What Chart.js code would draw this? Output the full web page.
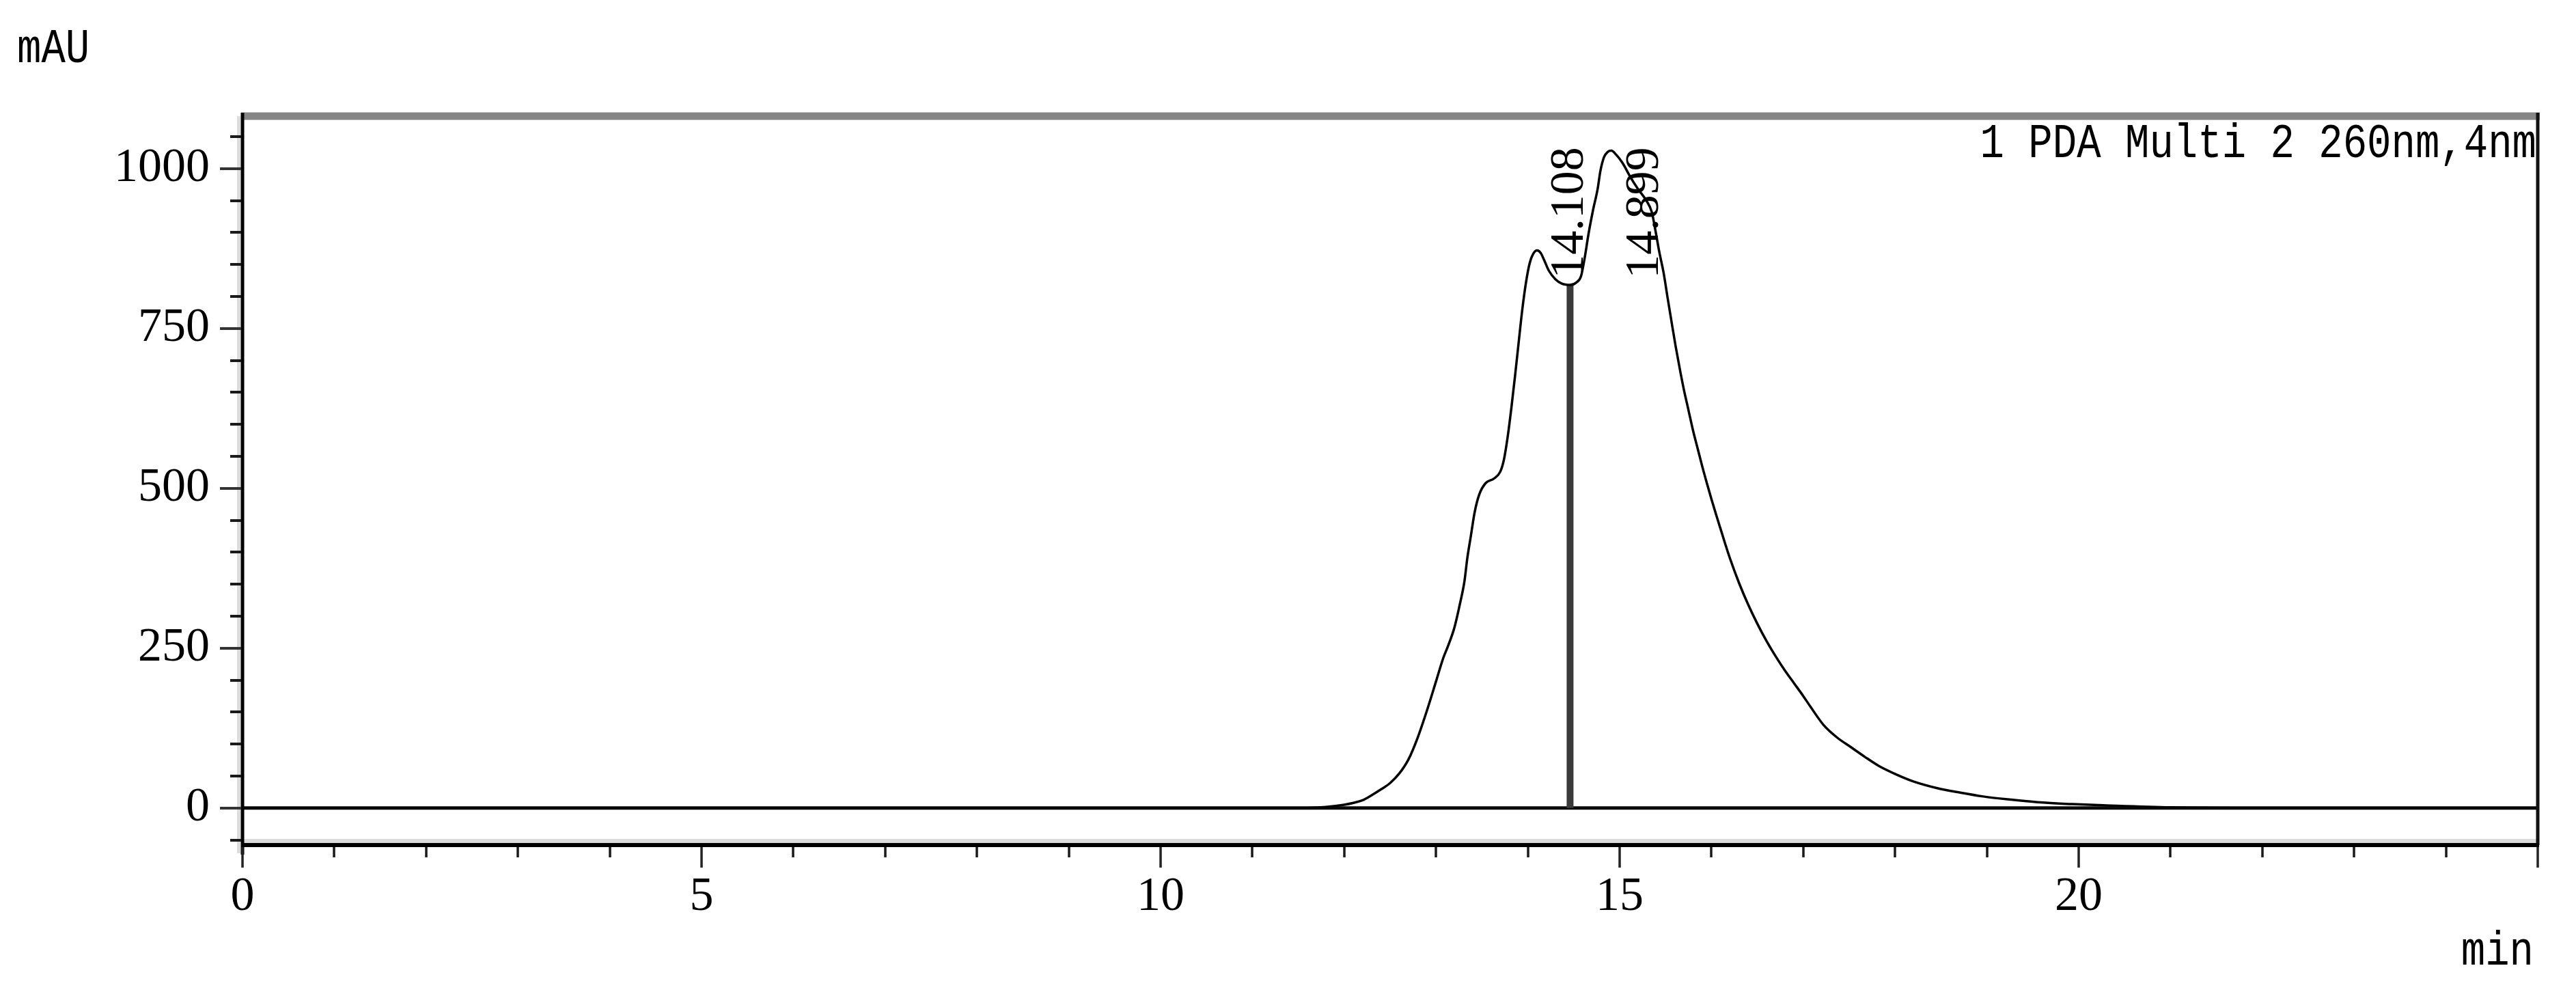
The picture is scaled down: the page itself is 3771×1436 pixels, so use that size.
<!DOCTYPE html>
<html>
<head>
<meta charset="utf-8">
<script src="https://cdn.jsdelivr.net/npm/chart.js@4.4.1/dist/chart.umd.min.js"></script>
<style>
  html, body { margin: 0; padding: 0; background: #ffffff; }
  #wrap { width: 3771px; height: 1436px; position: relative; }
</style>
</head>
<body>
<div id="wrap"><canvas id="chart"></canvas></div>
<script>
// ---- data ----
const timeMin = [0, 11.6, 11.8, 12.0, 12.1, 12.2, 12.3, 12.4, 12.5, 12.6, 12.7, 12.8, 12.9, 13.0, 13.08, 13.13, 13.2,
  13.26, 13.31, 13.34, 13.38, 13.42, 13.47, 13.54, 13.63, 13.70, 13.74, 13.78, 13.82, 13.86, 13.90,
  13.94, 13.98, 14.02, 14.06, 14.10, 14.14, 14.18, 14.23, 14.30, 14.37, 14.46, 14.53, 14.58, 14.62, 14.66, 14.71,
  14.76, 14.79, 14.83, 14.87, 14.91, 14.96, 15.03, 15.12, 15.20, 15.29, 15.35, 15.39, 15.43, 15.48, 15.52,
  15.56, 15.61, 15.66, 15.70, 15.75, 15.80, 15.85, 15.90, 15.95, 16.0, 16.05, 16.1, 16.15, 16.2, 16.3,
  16.4, 16.5, 16.6, 16.7, 16.8, 16.9, 17.0, 17.08, 17.22, 17.37, 17.52, 17.67, 17.82, 18.02, 18.21, 18.46, 18.71, 18.96,
  19.26, 19.55, 19.93, 20.3, 21.0, 22.0, 25.0];
const signalMAU = [0, 0, 1.5, 5, 8, 12, 20, 29, 39, 54, 76, 110, 152, 198, 235, 253, 282,
  319, 355, 390, 426, 462, 490, 508, 515, 526, 545, 580, 625, 675, 728,
  780, 822, 852, 867, 872, 868, 856, 840, 827, 820, 818, 822, 832, 861, 897, 935,
  968, 996, 1018, 1026, 1028, 1022, 1009, 986, 968, 950, 932, 903, 871, 836, 800,
  765, 722, 683, 654, 622, 590, 562, 534, 508, 483, 459, 436, 413, 391, 352,
  318, 288, 261, 237, 215, 195, 175, 158, 130, 110, 95, 80, 66, 52, 41, 31, 24, 18,
  13, 9, 6, 4, 1, 0, 0];
const baselineTime = [0, 25];
const baselineMAU = [0, 0];
const dropTime = [14.46, 14.46];
const dropMAU = [0, 818];
const peakLabels = ['14.108', '14.899'];
const peakLabelTime = [14.46, 15.28];
const peakLabelMAU = [828, 828];
const xTickLabels = [0, 5, 10, 15, 20];
const yTickLabels = [0, 250, 500, 750, 1000];
const channelText = '1 PDA Multi 2 260nm,4nm';
const yUnitText = 'mAU';
const xUnitText = 'min';

const toPoints = (xs, ys) => xs.map((v, i) => ({ x: v, y: ys[i] }));

const decorPlugin = {
  id: 'chromDecor',
  afterDraw(chart) {
    const { ctx, chartArea: a, scales: { x, y } } = chart;
    ctx.save();
    // light shadows of the axes
    ctx.fillStyle = '#dcdcdc';
    ctx.fillRect(a.left - 8, a.top, 5, a.bottom - a.top + 12);
    ctx.fillRect(a.left, a.bottom - 9, a.right - a.left, 6);

    const line = (x1, y1, x2, y2) => { ctx.beginPath(); ctx.moveTo(x1, y1); ctx.lineTo(x2, y2); ctx.stroke(); };
    // top border (grey), right border
    ctx.lineCap = 'butt';
    ctx.strokeStyle = '#858585'; ctx.lineWidth = 11;
    line(a.left - 2, a.top, a.right + 3, a.top);
    ctx.strokeStyle = '#111111'; ctx.lineWidth = 5;
    line(a.right, a.top - 5, a.right, a.bottom);
    // left & bottom axes
    ctx.strokeStyle = '#000000'; ctx.lineWidth = 5;
    line(a.left, a.top - 5, a.left, a.bottom + 14);
    ctx.lineWidth = 6;
    line(a.left, a.bottom, a.right + 2, a.bottom);

    // y ticks (major every 250, minor every 50)
    ctx.lineWidth = 4;
    for (let v = -50; v <= y.max; v += 50) {
      const py = Math.round(y.getPixelForValue(v));
      const major = v % 250 === 0;
      ctx.strokeStyle = major ? '#333333' : '#1a1a1a';
      line(a.left - (major ? 33 : 18), py, a.left - 2, py);
    }
    // x ticks (major every 5, minor every 1)
    ctx.lineWidth = 3.5;
    for (let v = 0; v <= x.max; v += 1) {
      const px = Math.round(x.getPixelForValue(v));
      const major = v % 5 === 0;
      ctx.strokeStyle = major ? '#222222' : '#1a1a1a';
      line(px, a.bottom + 3, px, a.bottom + (major ? 33 : 18));
    }

    // peak retention-time labels (rotated)
    ctx.fillStyle = '#000000';
    ctx.font = '70px "Liberation Serif"';
    ctx.textAlign = 'left';
    ctx.textBaseline = 'middle';
    peakLabels.forEach((t, i) => {
      ctx.save();
      ctx.translate(x.getPixelForValue(peakLabelTime[i]), y.getPixelForValue(peakLabelMAU[i]));
      ctx.rotate(-Math.PI / 2);
      ctx.fillText(t, 0, 0);
      ctx.restore();
    });

    // unit labels & channel text (narrow monospace)
    ctx.font = '70px "Liberation Mono"';
    ctx.textBaseline = 'alphabetic';
    const narrowText = (t, px, py, align) => {
      ctx.save();
      ctx.translate(px, py);
      ctx.scale(0.843, 1);
      ctx.textAlign = align;
      ctx.fillText(t, 0, 0);
      ctx.restore();
    };
    narrowText(yUnitText, 25, 91, 'left');
    narrowText(xUnitText, 3709, 1412, 'right');
    narrowText(channelText, 3713, 230, 'right');
    ctx.restore();
  }
};

const tickFont = { family: 'Liberation Serif', size: 70 };

new Chart(document.getElementById('chart'), {
  type: 'line',
  data: {
    datasets: [
      {
        label: 'PDA 260nm',
        data: toPoints(timeMin, signalMAU),
        borderColor: '#000000',
        borderWidth: 3.5,
        pointRadius: 0,
        cubicInterpolationMode: 'monotone',
        fill: false
      },
      {
        label: 'drop line',
        data: toPoints(dropTime, dropMAU),
        borderColor: '#3a3a3a',
        borderWidth: 10,
        pointRadius: 0,
        fill: false
      },
      {
        label: 'baseline',
        data: toPoints(baselineTime, baselineMAU),
        borderColor: '#0a0a0a',
        borderWidth: 5,
        pointRadius: 0,
        fill: false
      }
    ]
  },
  options: {
    responsive: true,
    maintainAspectRatio: false,
    animation: false,
    devicePixelRatio: 1,
    layout: { padding: { top: 170, right: 56, left: 0, bottom: 0 } },
    plugins: { legend: { display: false }, tooltip: { enabled: false }, title: { display: false } },
    scales: {
      x: {
        type: 'linear',
        min: 0,
        max: 25,
        grid: { display: false },
        border: { display: false },
        afterBuildTicks: (s) => { s.ticks = xTickLabels.map(v => ({ value: v })); },
        afterFit: (s) => { s.height = 199; },
        ticks: {
          autoSkip: false,
          maxRotation: 0,
          padding: 27,
          color: '#000000',
          font: tickFont,
          callback: (v) => String(v)
        }
      },
      y: {
        type: 'linear',
        min: -58,
        max: 1082,
        grid: { display: false },
        border: { display: false },
        afterBuildTicks: (s) => { s.ticks = yTickLabels.map(v => ({ value: v })); },
        afterFit: (s) => { s.width = 355; },
        ticks: {
          padding: 40,
          color: '#000000',
          font: tickFont,
          callback: (v) => String(v)
        }
      }
    }
  },
  plugins: [decorPlugin]
});
</script>
</body>
</html>
